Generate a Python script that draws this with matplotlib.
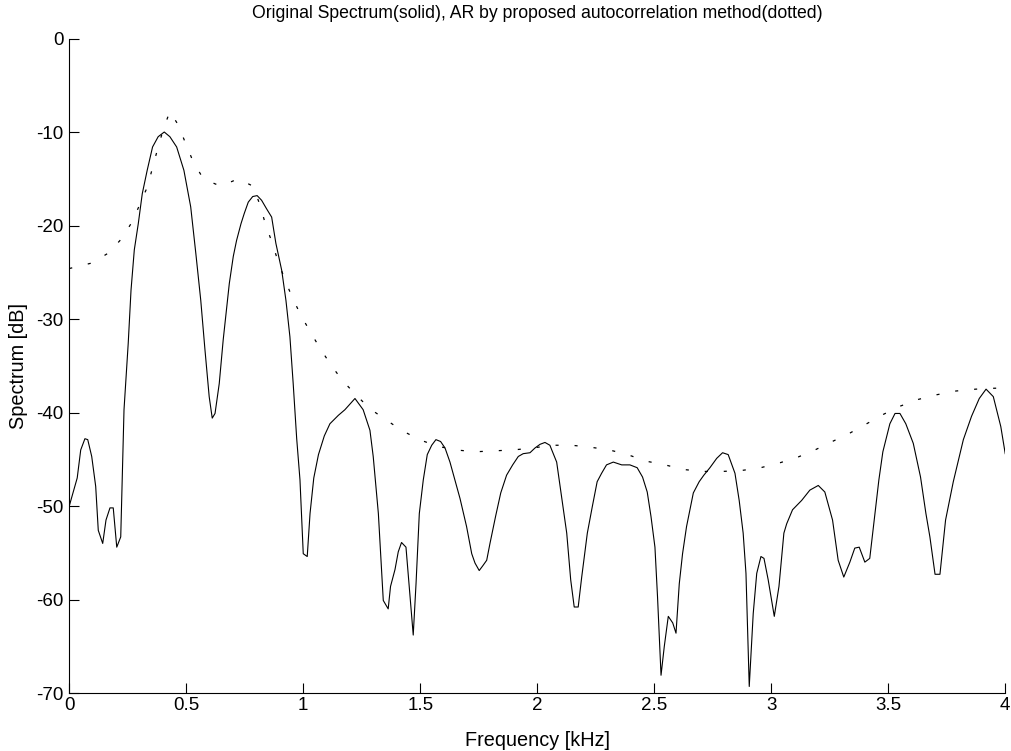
import matplotlib
matplotlib.use('Agg')
import matplotlib.pyplot as plt

# original spectrum (solid)
freq_solid = [0.000, 0.034, 0.049, 0.067, 0.079, 0.096, 0.113, 0.124, 0.143, 0.157,
              0.174, 0.188, 0.203, 0.220, 0.234, 0.252, 0.264, 0.278, 0.295, 0.312,
              0.333, 0.356, 0.380, 0.406, 0.430, 0.459, 0.490, 0.519, 0.541, 0.562,
              0.580, 0.598, 0.611, 0.623, 0.641, 0.658, 0.684, 0.701, 0.715, 0.734,
              0.748, 0.765, 0.784, 0.803, 0.822, 0.843, 0.865, 0.883, 0.908, 0.926,
              0.943, 0.957, 0.972, 0.986, 1.000, 1.017, 1.029, 1.045, 1.065, 1.090,
              1.114, 1.150, 1.178, 1.221, 1.256, 1.285, 1.299, 1.321, 1.342, 1.363,
              1.373, 1.392, 1.406, 1.420, 1.439, 1.453, 1.470, 1.482, 1.496, 1.513,
              1.530, 1.549, 1.567, 1.587, 1.606, 1.627, 1.648, 1.670, 1.698, 1.720,
              1.734, 1.752, 1.767, 1.784, 1.798, 1.822, 1.844, 1.869, 1.895, 1.919,
              1.940, 1.969, 1.990, 2.012, 2.033, 2.054, 2.083, 2.104, 2.126, 2.143,
              2.158, 2.175, 2.190, 2.214, 2.235, 2.256, 2.275, 2.296, 2.325, 2.361,
              2.396, 2.427, 2.450, 2.470, 2.486, 2.503, 2.514, 2.529, 2.543, 2.560,
              2.579, 2.593, 2.607, 2.621, 2.638, 2.667, 2.692, 2.712, 2.738, 2.767,
              2.792, 2.816, 2.845, 2.863, 2.880, 2.892, 2.906, 2.923, 2.938, 2.956,
              2.969, 2.987, 3.013, 3.033, 3.054, 3.066, 3.091, 3.130, 3.165, 3.201,
              3.229, 3.262, 3.286, 3.310, 3.336, 3.357, 3.376, 3.400, 3.421, 3.442,
              3.460, 3.477, 3.507, 3.529, 3.550, 3.575, 3.607, 3.638, 3.661, 3.678,
              3.700, 3.721, 3.745, 3.778, 3.821, 3.856, 3.889, 3.918, 3.949, 3.981,
              4.000]
db_solid = [-50.0, -47.0, -44.0, -42.8, -42.9, -44.7, -47.9, -52.6, -54.0, -51.5,
            -50.2, -50.2, -54.4, -53.3, -39.7, -32.6, -26.9, -22.6, -19.8, -16.6,
            -14.1, -11.6, -10.5, -10.0, -10.5, -11.6, -14.1, -18.0, -23.0, -28.0,
            -33.3, -38.3, -40.6, -40.1, -36.9, -32.2, -26.2, -23.3, -21.6, -19.8,
            -18.7, -17.5, -16.9, -16.8, -17.3, -18.2, -19.1, -21.9, -24.8, -28.0,
            -31.9, -36.9, -42.8, -47.2, -55.1, -55.4, -50.8, -47.0, -44.5, -42.5,
            -41.2, -40.3, -39.7, -38.5, -39.7, -41.9, -44.7, -50.8, -60.1, -61.0,
            -58.6, -56.8, -54.9, -53.9, -54.4, -58.6, -63.8, -58.3, -50.8, -47.2,
            -44.5, -43.5, -42.9, -43.1, -43.8, -45.3, -47.2, -49.2, -52.2, -55.1,
            -56.1, -56.9, -56.4, -55.8, -54.0, -51.1, -48.6, -46.7, -45.6, -44.7,
            -44.4, -44.3, -43.8, -43.4, -43.2, -43.5, -45.3, -49.0, -52.9, -57.9,
            -60.8, -60.8, -57.6, -52.9, -50.1, -47.4, -46.5, -45.6, -45.3, -45.6,
            -45.6, -45.9, -46.9, -48.5, -51.1, -54.4, -59.7, -68.1, -65.0, -61.8,
            -62.5, -63.6, -58.3, -55.1, -52.2, -48.6, -47.4, -46.7, -45.9, -44.9,
            -44.3, -44.5, -46.5, -49.4, -52.9, -57.2, -69.3, -61.5, -57.2, -55.4,
            -55.6, -57.9, -61.8, -58.6, -52.9, -51.9, -50.4, -49.4, -48.3, -47.8,
            -48.5, -51.5, -55.8, -57.6, -56.0, -54.5, -54.4, -56.0, -55.6, -51.1,
            -47.2, -44.2, -41.2, -40.1, -40.1, -41.2, -43.3, -46.9, -50.8, -53.3,
            -57.3, -57.3, -51.5, -47.4, -42.9, -40.4, -38.5, -37.5, -38.3, -41.5,
            -44.4]

# AR model spectrum (dotted)
freq_ar = [0.000, 0.098, 0.170, 0.224, 0.269, 0.304, 0.335, 0.356, 0.380, 0.402,
           0.430, 0.466, 0.497, 0.530, 0.573, 0.647, 0.722, 0.786, 0.815, 0.839,
           0.868, 0.893, 0.922, 0.953, 0.990, 1.026, 1.071, 1.118, 1.168, 1.225,
           1.285, 1.349, 1.420, 1.496, 1.573, 1.653, 1.734, 1.816, 1.897, 1.980,
           2.061, 2.147, 2.225, 2.308, 2.386, 2.465, 2.546, 2.627, 2.709, 2.791,
           2.873, 2.955, 3.034, 3.111, 3.187, 3.261, 3.336, 3.408, 3.479, 3.553,
           3.628, 3.707, 3.789, 3.874, 3.956, 4.000]
db_ar = [-24.6, -24.0, -22.9, -21.4, -19.6, -17.6, -15.8, -13.8, -11.6, -9.7,
         -7.8, -9.25, -11.2, -13.2, -15.0, -15.8, -15.0, -15.8, -17.8, -19.9,
         -21.9, -23.9, -25.8, -27.7, -29.6, -31.2, -33.1, -34.9, -36.6, -38.1,
         -39.6, -40.7, -41.9, -42.9, -43.6, -44.0, -44.2, -44.1, -44.0, -43.8,
         -43.5, -43.5, -43.7, -44.0, -44.5, -45.2, -45.6, -46.1, -46.3, -46.3,
         -46.2, -45.9, -45.4, -44.8, -44.0, -43.1, -42.2, -41.2, -40.2, -39.3,
         -38.6, -38.1, -37.7, -37.5, -37.4, -37.4]

x_ticks = [0, 0.5, 1, 1.5, 2, 2.5, 3, 3.5, 4]
y_ticks = [0, -10, -20, -30, -40, -50, -60, -70]

plt.rcParams['font.family'] = ['Liberation Sans', 'DejaVu Sans']
plt.rcParams['lines.scale_dashes'] = False
plt.rcParams['axes.unicode_minus'] = False

fig = plt.figure(figsize=(10.11, 7.51), dpi=100)
ax = fig.add_axes([0.0685, 0.0772, 0.9258, 0.8715])

ax.plot(freq_solid, db_solid, color='black', linewidth=0.8)
ax.plot(freq_ar, db_ar, color='black', linewidth=0.9, linestyle=(0, (2.2, 11.5)))

ax.set_xlim(0, 4)
ax.set_ylim(-70, 0)
ax.set_xticks(x_ticks)
ax.set_xticklabels([('%g' % t) for t in x_ticks])
ax.set_yticks(y_ticks)
ax.tick_params(direction='in', length=7, width=0.8, labelsize=13.5,
               top=False, right=False)
ax.tick_params(axis='x', pad=3)
ax.tick_params(axis='y', pad=4)
for side in ['top', 'right']:
    ax.spines[side].set_visible(False)
for side in ['left', 'bottom']:
    ax.spines[side].set_linewidth(0.8)

ax.set_xlabel('Frequency [kHz]', fontsize=14.3, labelpad=12)
ax.set_ylabel('Spectrum [dB]', fontsize=14.3, labelpad=6)
ax.set_title('Original Spectrum(solid), AR by proposed autocorrelation method(dotted)',
             fontsize=12.7, pad=15)

fig.savefig('out.png', dpi=100)
